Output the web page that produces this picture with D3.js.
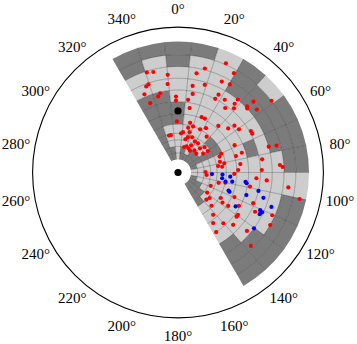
<!DOCTYPE html>
<html>
<head>
<meta charset="utf-8">
<script src="https://cdn.jsdelivr.net/npm/d3@7"></script>
<style>
  body { margin: 0; background: #fff; }
  text { font-family: "Liberation Serif", "DejaVu Serif", serif; }
</style>
</head>
<body>
<div id="chart"></div>
<script>
// radial bin edges (fraction of the grid radius) and angular bin edges (degrees)
const ringEdges = [0.10, 0.15, 0.20, 0.25, 0.30, 0.37, 0.45, 0.54, 0.63, 0.72, 0.81, 0.90, 1.00];
const sectorEdges = [-30, -18, -6, 6, 18, 30, 42, 54, 66, 78, 90, 102, 114, 126, 138, 150];

// shade per cell, one string per sector, inner ring first (D = dark, L = light)
const cellShade = [
    "DDDDDDDDLLDD",
    "DDLLLDDDLLLD",
    "LLLLLDDLLLDD",
    "DDLLLLLLLLLD",
    "DLLLLLLLLLLL",
    "DDLLLLLLLDDD",
    "DDLLDLLLLDDL",
    "DDDDDLLLLDDD",
    "DLLLLLLDLDDD",
    "LLLLLLLLLLDD",
    "LLLLLLLLLLLL",
    "DLLLLLLLLLDD",
    "DDLLLLLLLLDD",
    "DDDLLLLLLDDD",
    "DDDDLLLLDDDD"
];

const angleTicks = [0, 20, 40, 60, 80, 100, 120, 140, 160, 180, 200, 220, 240, 260, 280, 300, 320, 340];

// [angle in degrees, radius]
const redStars = [
    [-17.3, 0.80], [-13.8, 0.79], [-6.0, 0.75], [-6.7, 0.68], [-20.3, 0.70], [-18.5, 0.71],
    [-12.7, 0.62], [-23.2, 0.65], [-14.6, 0.60], [-21.9, 0.57], [-1.5, 0.58], [-1.6, 0.55],
    [-1.1, 0.39], [-10.8, 0.29], [-13.7, 0.29],
    [10.6, 0.77], [14.5, 0.82], [9.6, 0.67], [17.0, 0.70], [10.6, 0.61], [25.7, 0.77],
    [23.7, 0.91], [29.4, 0.87], [30.5, 0.78], [27.5, 0.67], [26.8, 0.63], [32.7, 0.66],
    [39.5, 0.68], [36.2, 0.61], [41.1, 0.65], [46.8, 0.79], [46.2, 0.73], [47.2, 0.72],
    [51.4, 0.77], [52.5, 0.90], [23.0, 0.46], [26.5, 0.46], [13.7, 0.39], [12.8, 0.35],
    [27.1, 0.37], [32.3, 0.40], [40.9, 0.47], [48.7, 0.51], [50.3, 0.56], [54.7, 0.57],
    [60.4, 0.64], [62.4, 0.64], [64.2, 0.48], [38.7, 0.35], [74.1, 0.72], [74.7, 0.78],
    [81.1, 0.65], [10.2, 0.50], [7.9, 0.56], [4.4, 0.30], [7.1, 0.31], [12.6, 0.26],
    [15.6, 0.28], [21.9, 0.29], [28.5, 0.27], [34.4, 0.27], [25.8, 0.23], [13.5, 0.20],
    [18.2, 0.21], [23.8, 0.20], [28.6, 0.19], [36.6, 0.21], [43.9, 0.20], [42.3, 0.25],
    [46.3, 0.28], [54.3, 0.28], [53.1, 0.24], [16.0, 0.32], [18.1, 0.37], [66.6, 0.36],
    [74.2, 0.46], [75.6, 0.33], [78.7, 0.36], [80.8, 0.31], [82.3, 0.48], [87.6, 0.46],
    [91.5, 0.43], [89.0, 0.21], [95.0, 0.22], [85.8, 0.78], [87.0, 0.80], [88.3, 0.64],
    [72.8, 0.51], [94.2, 0.60], [95.1, 0.68], [97.7, 0.85], [102.3, 0.95], [102.2, 0.37],
    [104.2, 0.32], [112.2, 0.27], [124.6, 0.27], [128.9, 0.31], [133.8, 0.30], [134.8, 0.36],
    [140.3, 0.42], [124.0, 0.41], [123.7, 0.46], [127.0, 0.56], [125.2, 0.56], [138.3, 0.52],
    [133.5, 0.58], [130.3, 0.69], [135.2, 0.79], [147.3, 0.54], [101.1, 0.56], [114.4, 0.79],
    [119.7, 0.81], [117.0, 0.66], [113.5, 0.47], [118.7, 0.53], [112.2, 0.62], [120.8, 0.38],
    [145.2, 0.47], [69.1, 0.34], [82.6, 0.34], [39.3, 0.72]
];

const blueStars = [
    [92.6, 0.26], [92.6, 0.34], [97.4, 0.34], [100.9, 0.37], [94.6, 0.40], [99.6, 0.42],
    [109.7, 0.41], [110.6, 0.42], [97.8, 0.52], [98.9, 0.53], [102.9, 0.63], [108.3, 0.55],
    [106.5, 0.68], [120.5, 0.51], [110.2, 0.76], [114.6, 0.69], [115.3, 0.71], [117.0, 0.70],
    [126.3, 0.72]
];

const blackMarks = [[0, 0.47], [0, 0]];

const width = 357, height = 344;
const cx = 178, cy = 172.5;

const svg = d3.select('#chart')
    .append('svg')
    .attr('width', width)
    .attr('height', height);

const g = svg.append('g').attr('transform', `translate(${cx},${cy})`);

const rScale = d3.scaleLinear().domain([0, 1]).range([0, 131]);
const aScale = d3.scaleLinear().domain([0, 360]).range([0, 2 * Math.PI]);

// build cells
const cells = [];
cellShade.forEach((col, j) => {
    for (let i = 0; i < ringEdges.length - 1; i++) {
        cells.push({
            a0: sectorEdges[j], a1: sectorEdges[j + 1],
            r0: ringEdges[i], r1: ringEdges[i + 1],
            shade: col[i]
        });
    }
});

const cellArc = d3.arc()
    .innerRadius(d => rScale(d.r0))
    .outerRadius(d => rScale(d.r1))
    .startAngle(d => aScale(d.a0))
    .endAngle(d => aScale(d.a1));

g.append('g').attr('class', 'cells')
    .selectAll('path')
    .data(cells)
    .join('path')
    .attr('d', cellArc)
    .attr('fill', d => d.shade === 'D' ? '#7b7b7b' : '#cdcdcd')
    .attr('stroke', 'none');

// grid lines
const grid = g.append('g').attr('class', 'grid')
    .attr('fill', 'none')
    .attr('stroke', '#000')
    .attr('stroke-opacity', 0.32)
    .attr('stroke-width', 0.8);

const aMin = sectorEdges[0], aMax = sectorEdges[sectorEdges.length - 1];
grid.selectAll('path.ring')
    .data(ringEdges.slice(1, -1))
    .join('path')
    .attr('class', 'ring')
    .attr('d', r => {
        const p = d3.path();
        const [x0, y0] = d3.pointRadial(aScale(aMin), rScale(r));
        p.moveTo(x0, y0);
        p.arc(0, 0, rScale(r), aScale(aMin) - Math.PI / 2, aScale(aMax) - Math.PI / 2);
        return p.toString();
    });

grid.selectAll('line.spoke')
    .data(sectorEdges.slice(1, -1))
    .join('line')
    .attr('class', 'spoke')
    .attr('x1', a => d3.pointRadial(aScale(a), rScale(ringEdges[0]))[0])
    .attr('y1', a => d3.pointRadial(aScale(a), rScale(ringEdges[0]))[1])
    .attr('x2', a => d3.pointRadial(aScale(a), rScale(ringEdges[ringEdges.length - 1]))[0])
    .attr('y2', a => d3.pointRadial(aScale(a), rScale(ringEdges[ringEdges.length - 1]))[1]);

// outer frame circle
g.append('circle')
    .attr('r', rScale(1.11))
    .attr('fill', 'none')
    .attr('stroke', '#000')
    .attr('stroke-width', 1.1);

// angle labels
g.append('g').attr('class', 'labels')
    .selectAll('text')
    .data(angleTicks)
    .join('text')
    .attr('x', a => d3.pointRadial(aScale(a), rScale(1.255))[0])
    .attr('y', a => d3.pointRadial(aScale(a), rScale(1.25))[1])
    .attr('text-anchor', 'middle')
    .attr('dominant-baseline', 'central')
    .attr('font-size', '15px')
    .attr('fill', '#000')
    .text(a => `${a}°`);

// stars
const drawStars = (data, color, size) => {
    g.append('g')
        .selectAll('circle')
        .data(data)
        .join('circle')
        .attr('cx', d => d3.pointRadial(aScale(d[0]), rScale(d[1]))[0])
        .attr('cy', d => d3.pointRadial(aScale(d[0]), rScale(d[1]))[1])
        .attr('r', size)
        .attr('fill', color);
};

drawStars(redStars, '#ff0000', 2.1);
drawStars(blueStars, '#0000ff', 2.1);
drawStars(blackMarks, '#000', 3.6);
</script>
</body>
</html>
